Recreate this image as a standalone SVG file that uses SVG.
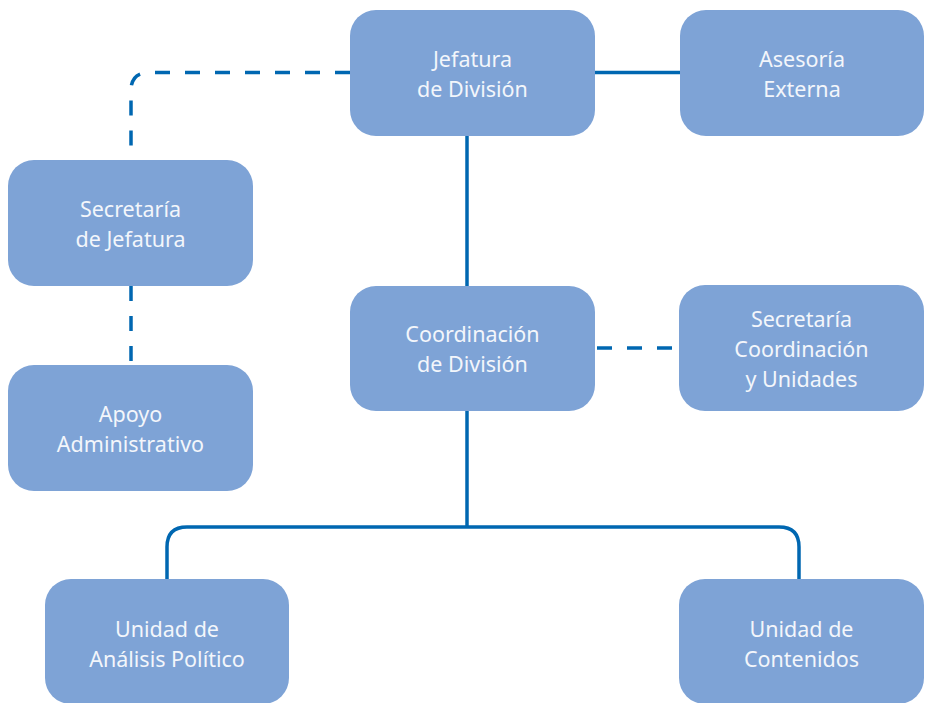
<svg xmlns="http://www.w3.org/2000/svg" width="925" height="703" viewBox="0 0 925 703">
<style>
.box{fill:#7EA3D6;}
.lbl{font-family:"Noto Sans","Open Sans",sans-serif;font-size:21.5px;fill:#F3F6FB;text-anchor:middle;}
.ln{fill:none;stroke:#0067B1;stroke-width:3.5;}
.dash{stroke-dasharray:15 15;}
</style>
<rect width="925" height="703" fill="#FFFFFF"/>
<g id="connectors">
<path class="ln dash" d="M350,72.5 H149 Q131,72.5 131,90.5 V160"/>
<path class="ln dash" d="M131,286 V365"/>
<path class="ln" d="M595,72.5 H680"/>
<path class="ln" d="M467,136 V286"/>
<path class="ln dash" d="M595,348 H680" style="stroke-dasharray:15 15;stroke-dashoffset:-2"/>
<path class="ln" d="M467,411 V527"/>
<path class="ln" d="M167,579 V547 Q167,527 187,527 H779 Q799,527 799,547 V579"/>
</g>
<g id="jefatura"><rect class="box" x="350" y="10" width="245" height="126" rx="26"/><text class="lbl" x="472.5" y="67">Jefatura</text><text class="lbl" x="472.5" y="97">de División</text></g>
<g id="asesoria"><rect class="box" x="680" y="10" width="244" height="126" rx="26"/><text class="lbl" x="802" y="67">Asesoría</text><text class="lbl" x="802" y="97">Externa</text></g>
<g id="secretaria-jefatura"><rect class="box" x="8" y="160" width="245" height="126" rx="26"/><text class="lbl" x="130.5" y="217">Secretaría</text><text class="lbl" x="130.5" y="247">de Jefatura</text></g>
<g id="apoyo"><rect class="box" x="8" y="365" width="245" height="126" rx="26"/><text class="lbl" x="130.5" y="422">Apoyo</text><text class="lbl" x="130.5" y="452">Administrativo</text></g>
<g id="coordinacion"><rect class="box" x="350" y="286" width="245" height="125" rx="26"/><text class="lbl" x="472.5" y="342">Coordinación</text><text class="lbl" x="472.5" y="372">de División</text></g>
<g id="secretaria-coordinacion"><rect class="box" x="679" y="285" width="245" height="126" rx="26"/><text class="lbl" x="801.5" y="327">Secretaría</text><text class="lbl" x="801.5" y="357">Coordinación</text><text class="lbl" x="801.5" y="387">y Unidades</text></g>
<g id="unidad-analisis"><rect class="box" x="45" y="579" width="244" height="125" rx="26"/><text class="lbl" x="167" y="637">Unidad de</text><text class="lbl" x="167" y="667">Análisis Político</text></g>
<g id="unidad-contenidos"><rect class="box" x="679" y="579" width="245" height="125" rx="26"/><text class="lbl" x="801.5" y="637">Unidad de</text><text class="lbl" x="801.5" y="667">Contenidos</text></g>
</svg>
